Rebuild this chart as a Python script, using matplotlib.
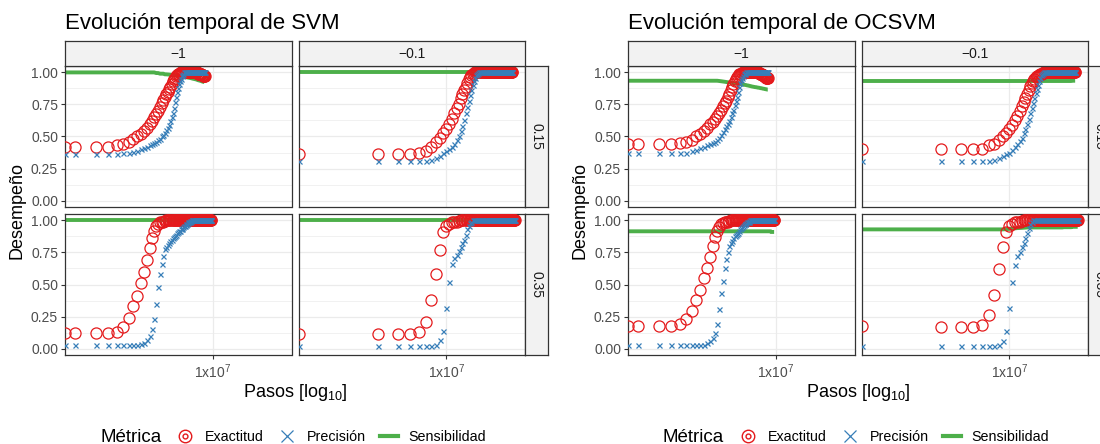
import matplotlib
matplotlib.use("Agg")
import matplotlib.pyplot as plt
from matplotlib.lines import Line2D
from matplotlib.legend_handler import HandlerTuple
from matplotlib.ticker import NullLocator
import numpy as np

plt.rcParams['font.family'] = ['Liberation Sans', 'DejaVu Sans']
plt.rcParams['mathtext.fontset'] = 'custom'
plt.rcParams['mathtext.rm'] = 'Liberation Sans'
plt.rcParams['mathtext.it'] = 'Liberation Sans:italic'
plt.rcParams['mathtext.bf'] = 'Liberation Sans:bold'
plt.rcParams['mathtext.default'] = 'regular'

W, H = 1100, 444

RED = '#E41A1C'
BLUE = '#377EB8'
GREEN = '#4DAF4A'
BORDER = '#333333'
GRID = '#EBEBEB'
STRIP = '#F2F2F2'

COLS = ["\u22121", "\u22120.1"]
ROWS = ["0.15", "0.35"]
STEP = [1e5, 1e6]  # pasos entre puntos de control por columna
METRICS = ["Exactitud", "Precisión", "Sensibilidad"]

# ---------------- SVM ----------------
svm_acc_015_m1 = [
    .42, .42, .42, .42, .43, .44, .46, .48, .50, .52,
    .545, .57, .595, .62, .65, .675, .70, .73, .76, .785,
    .81, .83, .85, .87, .89, .91, .93, .945, .96, .97,
    .98, .985, .99, .995, 1, 1, 1, 1, 1, 1,
    1, 1, 1, 1, 1, 1, 1, 1, 1, 1,
    1, 1, 1, 1, 1, 1, 1, 1, 1, 1,
    .995, .99, .99, .99, .99, .99, .99, .985, .985, .98,
    .98, .98, .975, .975, .97, .97, .97]
svm_prec_015_m1 = [
    .365, .365, .365, .365, .365, .37, .37, .38, .39, .40,
    .41, .42, .43, .44, .45, .46, .47, .48, .50, .51,
    .53, .55, .57, .59, .62, .65, .68, .72, .77, .81,
    .85, .88, .91, .93, .95, .97, .98, .99, 1, 1,
    1, 1, 1, 1, 1, 1, 1, 1, 1, 1,
    1, 1, 1, 1, 1, 1, 1, 1, 1, 1,
    1, 1, 1, 1, 1, 1, 1, 1, 1, 1,
    1, 1, 1, 1, 1, 1, 1]
svm_sens_015_m1 = [
    1, 1, 1, 1, 1, 1, 1, 1, 1, 1,
    1, 1, 1, 1, 1, .995, .995, .99, .99, .99,
    .985, .985, .984, .983, .982, .98, .979, .978, .977, .976,
    .975, .974, .973, .972, .971, .97, .968, .967, .966, .965,
    .963, .962, .961, .96, .959, .958, .957, .956, .955, .954,
    .952, .951, .95, .949, .948, .947, .946, .945, .944, .942,
    .94, .939, .938, .937, .936, .935, .934, .933, .932, .93,
    .929, .928, .927, .926, .925, .924, .922]

svm_acc_015_m01 = [
    .365, .365, .365, .365, .37, .39, .42, .455, .49, .525,
    .56, .60, .64, .68, .72, .755, .80, .83, .86, .89,
    .92, .945, .965, .98, .99, .995, 1, 1, 1, 1,
    1, 1, 1, 1, 1, 1, 1, 1, 1, 1,
    1, 1, 1, 1, 1, 1, 1, 1, 1, 1,
    1, 1, 1, 1, 1, 1, 1, 1, 1, 1,
    1, 1, 1, 1, 1, 1, 1, 1, 1, 1,
    1, 1, 1, 1, 1, 1, 1, 1, 1, 1,
    1, 1, 1, 1, 1, 1, 1, 1, 1, 1,
    1]
svm_prec_015_m01 = [
    .305, .305, .305, .305, .305, .31, .32, .335, .35, .37,
    .39, .40, .42, .44, .47, .50, .54, .58, .63, .68,
    .73, .78, .82, .86, .90, .93, .96, .98, .99, .995,
    1, 1, 1, 1, 1, 1, 1, 1, 1, 1,
    1, 1, 1, 1, 1, 1, 1, 1, 1, 1,
    1, 1, 1, 1, 1, 1, 1, 1, 1, 1,
    1, 1, 1, 1, 1, 1, 1, 1, 1, 1,
    1, 1, 1, 1, 1, 1, 1, 1, 1, 1,
    1, 1, 1, 1, 1, 1, 1, 1, 1, 1,
    1]
svm_sens_015_m01 = [
    1, 1, 1, 1, 1, 1, 1, 1, 1, 1,
    1, 1, 1, 1, 1, 1, 1, 1, 1, 1,
    1, 1, 1, 1, 1, 1, 1, 1, 1, 1,
    1, 1, 1, 1, 1, 1, 1, 1, 1, 1,
    1, 1, 1, 1, 1, 1, 1, 1, 1, 1,
    1, 1, 1, 1, 1, 1, 1, 1, 1, 1,
    1, 1, 1, 1, 1, 1, 1, 1, 1, 1,
    1, 1, 1, 1, 1, 1, 1, 1, 1, 1,
    1, 1, 1, 1, 1, 1, 1, 1, 1, 1,
    1]

svm_acc_035_m1 = [
    .12, .12, .12, .12, .13, .17, .24, .33, .41, .51,
    .60, .69, .785, .86, .92, .96, .975, .985, .99, .99,
    .995, 1, 1, 1, 1, 1, 1, 1, 1, 1,
    1, 1, 1, 1, 1, 1, 1, 1, 1, 1,
    1, 1, 1, 1, 1, 1, 1, 1, 1, 1,
    1, 1, 1, 1, 1, 1, 1, 1, 1, 1,
    1, 1, 1, 1, 1, 1, 1, 1, 1, 1,
    1, 1, 1, 1, 1, 1, 1, 1, 1, 1,
    1, 1, 1, 1, 1, 1, 1, 1, 1, 1,
    1, 1, 1, 1, 1]
svm_prec_035_m1 = [
    .03, .03, .03, .03, .03, .03, .03, .03, .03, .035,
    .045, .07, .10, .15, .23, .35, .48, .58, .66, .72,
    .78, .795, .81, .825, .84, .85, .86, .87, .88, .89,
    .90, .91, .915, .92, .93, .935, .94, .95, .955, .96,
    .965, .97, .975, .98, .985, .99, .99, .995, .995, 1,
    1, 1, 1, 1, 1, 1, 1, 1, 1, 1,
    1, 1, 1, 1, 1, 1, 1, 1, 1, 1,
    1, 1, 1, 1, 1, 1, 1, 1, 1, 1,
    1, 1, 1, 1, 1, 1, 1, 1, 1, 1,
    1, 1, 1, 1, 1]
svm_sens_035_m1 = [
    1, 1, 1, 1, 1, 1, 1, 1, 1, 1,
    1, 1, 1, 1, 1, 1, 1, 1, 1, 1,
    1, 1, 1, 1, 1, 1, 1, 1, 1, 1,
    1, 1, 1, 1, 1, 1, 1, 1, 1, 1,
    1, 1, 1, 1, 1, 1, 1, 1, 1, 1,
    1, 1, 1, 1, 1, 1, 1, 1, 1, 1,
    1, 1, 1, 1, 1, 1, 1, 1, 1, 1,
    1, 1, 1, 1, 1, 1, 1, 1, 1, 1,
    1, 1, 1, 1, 1, 1, 1, 1, 1, 1,
    1, 1, 1, 1, 1]

svm_acc_035_m01 = [
    .11, .11, .11, .11, .13, .21, .38, .58, .77, .91,
    .96, .975, .985, .99, .99, .995, 1, 1, 1, 1,
    1, 1, 1, 1, 1, 1, 1, 1, 1, 1,
    1, 1, 1, 1, 1, 1, 1, 1, 1, 1,
    1, 1, 1, 1, 1, 1, 1, 1, 1, 1,
    1, 1, 1, 1, 1, 1, 1, 1, 1, 1,
    1, 1, 1, 1, 1, 1, 1, 1, 1, 1,
    1, 1, 1, 1, 1, 1, 1, 1, 1, 1,
    1, 1, 1, 1, 1, 1, 1, 1, 1, 1,
    1, 1, 1, 1, 1, 1, 1, 1, 1]
svm_prec_035_m01 = [
    .02, .02, .02, .02, .02, .02, .02, .03, .07, .14,
    .32, .52, .66, .71, .73, .76, .79, .82, .85, .89,
    .93, .96, .98, .99, 1, 1, 1, 1, 1, 1,
    1, 1, 1, 1, 1, 1, 1, 1, 1, 1,
    1, 1, 1, 1, 1, 1, 1, 1, 1, 1,
    1, 1, 1, 1, 1, 1, 1, 1, 1, 1,
    1, 1, 1, 1, 1, 1, 1, 1, 1, 1,
    1, 1, 1, 1, 1, 1, 1, 1, 1, 1,
    1, 1, 1, 1, 1, 1, 1, 1, 1, 1,
    1, 1, 1, 1, 1, 1, 1, 1, 1]
svm_sens_035_m01 = [
    1, 1, 1, 1, 1, 1, 1, 1, 1, 1,
    1, 1, 1, 1, 1, 1, 1, 1, 1, 1,
    1, 1, 1, 1, 1, 1, 1, 1, 1, 1,
    1, 1, 1, 1, 1, 1, 1, 1, 1, 1,
    1, 1, 1, 1, 1, 1, 1, 1, 1, 1,
    1, 1, 1, 1, 1, 1, 1, 1, 1, 1,
    1, 1, 1, 1, 1, 1, 1, 1, 1, 1,
    1, 1, 1, 1, 1, 1, 1, 1, 1, 1,
    1, 1, 1, 1, 1, 1, 1, 1, 1, 1,
    1, 1, 1, 1, 1, 1, 1, 1, 1]

# ---------------- OCSVM ----------------
ocsvm_acc_015_m1 = [
    .44, .44, .44, .44, .45, .46, .475, .50, .52, .545,
    .57, .595, .615, .64, .66, .68, .71, .735, .76, .78,
    .81, .835, .86, .885, .91, .93, .95, .965, .975, .985,
    .99, .99, .995, 1, 1, 1, 1, 1, 1, 1,
    1, 1, 1, 1, 1, 1, 1, 1, 1, 1,
    1, 1, 1, 1, 1, 1, .995, .995, .99, .99,
    .99, .985, .985, .98, .98, .98, .975, .975, .97, .97,
    .965, .965, .96, .96, .96, .955, .955]
ocsvm_prec_015_m1 = [
    .37, .37, .37, .37, .37, .37, .385, .395, .41, .42,
    .43, .44, .45, .46, .475, .49, .51, .535, .555, .58,
    .60, .62, .65, .68, .71, .745, .78, .81, .85, .885,
    .92, .94, .96, .975, .985, .99, .995, 1, 1, 1,
    1, 1, 1, 1, 1, 1, 1, 1, 1, 1,
    1, 1, 1, 1, 1, 1, 1, 1, 1, 1,
    1, 1, 1, 1, 1, 1, 1, 1, 1, 1,
    1, 1, 1, 1, 1, 1, 1]
ocsvm_sens_015_m1 = [
    .935, .935, .935, .935, .935, .935, .935, .935, .935, .935,
    .935, .935, .935, .935, .935, .933, .931, .929, .927, .925,
    .923, .921, .92, .918, .917, .915, .914, .913, .912, .911,
    .91, .909, .907, .906, .905, .903, .902, .901, .899, .898,
    .897, .895, .894, .893, .891, .89, .889, .888, .887, .886,
    .885, .885, .884, .883, .882, .881, .881, .88, .879, .878,
    .877, .877, .876, .875, .874, .873, .873, .872, .871, .87,
    .87, .869, .868, .868, .867, .866, .866]

ocsvm_acc_015_m01 = [
    .40, .40, .40, .40, .405, .43, .445, .47, .50, .53,
    .56, .59, .625, .66, .70, .74, .77, .80, .835, .865,
    .895, .92, .935, .95, .965, .97, .975, .98, .985, .99,
    .99, .995, 1, 1, 1, 1, 1, 1, 1, 1,
    1, 1, 1, 1, 1, 1, 1, 1, 1, 1,
    1, 1, 1, 1, 1, 1, 1, 1, 1, 1,
    1, 1, 1, 1, 1, 1, 1, 1, 1, 1,
    1, 1, 1, 1, 1, 1, 1, 1, 1, 1,
    1, 1, 1, 1, 1, 1, 1, 1, 1, 1,
    1]
ocsvm_prec_015_m01 = [
    .305, .305, .305, .305, .305, .31, .32, .335, .35, .36,
    .375, .395, .415, .44, .465, .49, .525, .56, .60, .64,
    .68, .72, .76, .80, .84, .87, .905, .935, .96, .98,
    .99, .995, 1, 1, 1, 1, 1, 1, 1, 1,
    1, 1, 1, 1, 1, 1, 1, 1, 1, 1,
    1, 1, 1, 1, 1, 1, 1, 1, 1, 1,
    1, 1, 1, 1, 1, 1, 1, 1, 1, 1,
    1, 1, 1, 1, 1, 1, 1, 1, 1, 1,
    1, 1, 1, 1, 1, 1, 1, 1, 1, 1,
    1]
ocsvm_sens_015_m01 = [
    .933, .933, .933, .933, .933, .933, .933, .933, .933, .933,
    .933, .933, .933, .933, .933, .933, .933, .933, .933, .933,
    .933, .933, .933, .933, .933, .933, .933, .933, .933, .933,
    .933, .933, .933, .933, .933, .933, .933, .933, .933, .933,
    .933, .933, .933, .933, .933, .933, .933, .933, .933, .933,
    .933, .933, .933, .933, .933, .933, .933, .933, .933, .933,
    .933, .933, .933, .933, .933, .933, .933, .933, .933, .933,
    .933, .933, .933, .933, .933, .933, .933, .933, .933, .933,
    .935, .935, .935, .935, .935, .935, .935, .935, .935, .935,
    .935]

ocsvm_acc_035_m1 = [
    .18, .18, .18, .18, .19, .23, .29, .38, .46, .55,
    .63, .715, .80, .87, .92, .95, .97, .98, .985, .99,
    .99, .995, 1, 1, 1, 1, 1, 1, 1, 1,
    1, 1, 1, 1, 1, 1, 1, 1, 1, 1,
    1, 1, 1, 1, 1, 1, 1, 1, 1, 1,
    1, 1, 1, 1, 1, 1, 1, 1, 1, 1,
    1, 1, 1, 1, 1, 1, 1, 1, 1, 1,
    1, 1, 1, 1, 1, 1, 1, 1, 1, 1,
    1, 1, 1, 1, 1, 1, 1, 1, 1, 1,
    1, 1, 1, 1, 1]
ocsvm_prec_035_m1 = [
    .03, .03, .03, .03, .03, .03, .03, .03, .03, .03,
    .04, .06, .085, .12, .19, .31, .43, .53, .63, .70,
    .75, .80, .82, .84, .86, .875, .885, .895, .905, .92,
    .93, .94, .95, .955, .965, .97, .975, .98, .985, .99,
    .99, .995, 1, 1, 1, 1, 1, 1, 1, 1,
    1, 1, 1, 1, 1, 1, 1, 1, 1, 1,
    1, 1, 1, 1, 1, 1, 1, 1, 1, 1,
    1, 1, 1, 1, 1, 1, 1, 1, 1, 1,
    1, 1, 1, 1, 1, 1, 1, 1, 1, 1,
    1, 1, 1, 1, 1]
ocsvm_sens_035_m1 = [
    .915, .915, .915, .915, .915, .915, .915, .915, .915, .915,
    .915, .915, .915, .915, .915, .915, .915, .915, .915, .915,
    .915, .915, .915, .915, .915, .915, .915, .915, .915, .915,
    .915, .915, .915, .915, .915, .915, .915, .915, .915, .915,
    .915, .915, .915, .915, .915, .915, .915, .915, .915, .915,
    .915, .915, .915, .915, .915, .915, .915, .915, .915, .915,
    .915, .915, .915, .915, .915, .915, .915, .915, .915, .915,
    .915, .915, .915, .915, .915, .915, .915, .915, .915, .915,
    .915, .915, .915, .915, .915, .91, .91, .91, .91, .91,
    .91, .91, .91, .91, .91]

ocsvm_acc_035_m01 = [
    .18, .17, .17, .17, .185, .26, .42, .62, .79, .91,
    .96, .975, .985, .99, .99, .995, 1, 1, 1, 1,
    1, 1, 1, 1, 1, 1, 1, 1, 1, 1,
    1, 1, 1, 1, 1, 1, 1, 1, 1, 1,
    1, 1, 1, 1, 1, 1, 1, 1, 1, 1,
    1, 1, 1, 1, 1, 1, 1, 1, 1, 1,
    1, 1, 1, 1, 1, 1, 1, 1, 1, 1,
    1, 1, 1, 1, 1, 1, 1, 1, 1, 1,
    1, 1, 1, 1, 1, 1, 1, 1, 1, 1,
    1, 1, 1, 1, 1, 1, 1, 1, 1]
ocsvm_prec_035_m01 = [
    .02, .02, .02, .02, .02, .02, .02, .03, .06, .14,
    .32, .52, .65, .72, .75, .79, .82, .86, .90, .94,
    .97, .99, 1, 1, 1, 1, 1, 1, 1, 1,
    1, 1, 1, 1, 1, 1, 1, 1, 1, 1,
    1, 1, 1, 1, 1, 1, 1, 1, 1, 1,
    1, 1, 1, 1, 1, 1, 1, 1, 1, 1,
    1, 1, 1, 1, 1, 1, 1, 1, 1, 1,
    1, 1, 1, 1, 1, 1, 1, 1, 1, 1,
    1, 1, 1, 1, 1, 1, 1, 1, 1, 1,
    1, 1, 1, 1, 1, 1, 1, 1, 1]
ocsvm_sens_035_m01 = [
    .93, .93, .93, .93, .93, .93, .93, .93, .93, .932,
    .934, .936, .938, .94, .941, .942, .943, .944, .945, .945,
    .945, .945, .945, .945, .945, .945, .945, .945, .945, .945,
    .945, .945, .945, .945, .945, .945, .945, .945, .945, .945,
    .945, .945, .945, .945, .945, .945, .945, .945, .945, .945,
    .945, .945, .945, .945, .945, .945, .945, .945, .945, .945,
    .947, .947, .947, .947, .947, .947, .947, .947, .947, .947,
    .947, .947, .947, .947, .947, .947, .947, .947, .947, .947,
    .95, .95, .95, .95, .95, .95, .95, .95, .95, .95,
    .95, .95, .95, .95, .95, .95, .95, .95, .95]

CHARTS = [
    ("Evolución temporal de SVM", 0,
     [[(svm_acc_015_m1, svm_prec_015_m1, svm_sens_015_m1),
       (svm_acc_015_m01, svm_prec_015_m01, svm_sens_015_m01)],
      [(svm_acc_035_m1, svm_prec_035_m1, svm_sens_035_m1),
       (svm_acc_035_m01, svm_prec_035_m01, svm_sens_035_m01)]]),
    ("Evolución temporal de OCSVM", 563,
     [[(ocsvm_acc_015_m1, ocsvm_prec_015_m1, ocsvm_sens_015_m1),
       (ocsvm_acc_015_m01, ocsvm_prec_015_m01, ocsvm_sens_015_m01)],
      [(ocsvm_acc_035_m1, ocsvm_prec_035_m1, ocsvm_sens_035_m1),
       (ocsvm_acc_035_m01, ocsvm_prec_035_m01, ocsvm_sens_035_m01)]]),
]


def box(x, y, w, h):
    # rectangulo en pixeles (origen arriba a la izquierda) -> fraccion de figura
    return [x / W, 1 - (y + h) / H, w / W, h / H]


def steps(vals, step, left):
    x = np.arange(len(vals)) * step
    x[0] = left  # el paso 0 cae en -Inf del eje log: se dibuja en el borde
    return x


# limites del eje x compartido (log10 con 5% de margen, como ggplot)
lo_x, hi_x = np.inf, -np.inf
for _, _, grid in CHARTS:
    for r in range(2):
        for c in range(2):
            for vals in grid[r][c]:
                lo_x = min(lo_x, np.log10(STEP[c]))
                hi_x = max(hi_x, np.log10((len(vals) - 1) * STEP[c]))
pad = 0.05 * (hi_x - lo_x)
XLIM = (10 ** (lo_x - pad), 10 ** (hi_x + pad))

fig = plt.figure(figsize=(W / 100, H / 100), dpi=100)

col_left = [65, 298.5]
col_w = 226.5
row_top = [66, 214]
row_h = 141

for title, off, grid in CHARTS:
    fig.text((off + 65) / W, 1 - 29 / H, title, fontsize=16, ha='left',
             va='baseline', color='black')
    for r in range(2):
        for c in range(2):
            acc, prec, sens = grid[r][c]
            ax = fig.add_axes(box(off + col_left[c], row_top[r], col_w, row_h))
            ax.set_xscale('log')
            ax.plot(steps(sens, STEP[c], XLIM[0]), sens, color=GREEN, lw=2.8,
                    solid_capstyle='butt', zorder=2)
            ax.plot(steps(acc, STEP[c], XLIM[0]), acc, ls='none', marker='o',
                    ms=8, mfc='none', mec=RED, mew=0.9, zorder=3)
            ax.plot(steps(prec, STEP[c], XLIM[0]), prec, ls='none', marker='x',
                    ms=3.6, mec=BLUE, mew=0.9, zorder=4)
            ax.set_xlim(XLIM)
            ax.set_ylim(-0.05, 1.05)
            ax.set_xticks([1e7], labels=['1x$10^{7}$'])
            ax.xaxis.set_minor_locator(NullLocator())
            ax.set_yticks([0, .25, .5, .75, 1],
                          labels=['0.00', '0.25', '0.50', '0.75', '1.00'])
            ax.set_yticks([.125, .375, .625, .875], minor=True)
            ax.grid(True, which='major', color=GRID, lw=0.9)
            ax.grid(True, which='minor', axis='y', color=GRID, lw=0.5)
            ax.set_axisbelow(True)
            for sp in ax.spines.values():
                sp.set_color(BORDER)
                sp.set_linewidth(0.9)
            ax.tick_params(which='major', direction='out', length=3, width=0.8,
                           color=BORDER, labelcolor='#4D4D4D', labelsize=10, pad=2)
            ax.tick_params(which='minor', length=0)
            ax.tick_params(axis='y', left=(c == 0), labelleft=(c == 0))
            ax.tick_params(axis='x', bottom=(r == 1), labelbottom=(r == 1))

    # tiras de facetas
    for c in range(2):
        sax = fig.add_axes(box(off + col_left[c], 41, col_w, 25))
        sax.set_facecolor(STRIP)
        sax.set_xticks([])
        sax.set_yticks([])
        for sp in sax.spines.values():
            sp.set_color(BORDER)
            sp.set_linewidth(0.9)
        sax.text(0.5, 0.5, COLS[c], ha='center', va='center', fontsize=10,
                 color='#1A1A1A', transform=sax.transAxes)
    for r in range(2):
        sax = fig.add_axes(box(off + 525, row_top[r], 23, row_h))
        sax.set_facecolor(STRIP)
        sax.set_xticks([])
        sax.set_yticks([])
        for sp in sax.spines.values():
            sp.set_color(BORDER)
            sp.set_linewidth(0.9)
        sax.text(0.5, 0.5, ROWS[r], ha='center', va='center', fontsize=10,
                 rotation=-90, color='#1A1A1A', transform=sax.transAxes)

    fig.text((off + 17) / W, 1 - 210.5 / H, "Desempeño", rotation=90,
             ha='center', va='center', fontsize=13)
    fig.text((off + 295) / W, 1 - 392 / H, "Pasos [log$_{10}$]",
             ha='center', va='center', fontsize=13)

    # leyenda
    fig.text((off + 100) / W, 1 - 437 / H, "Métrica", ha='left', va='center',
             fontsize=13.5)
    h_acc = (Line2D([], [], ls='none', marker='o', ms=9, mfc='none', mec=RED, mew=1.0),
             Line2D([], [], ls='none', marker='o', ms=3.5, mfc='none', mec=RED, mew=1.0))
    h_prec = Line2D([], [], ls='none', marker='x', ms=8.5, mec=BLUE, mew=0.9)
    h_sens = Line2D([], [], color=GREEN, lw=3)
    fig.legend([h_acc, h_prec, h_sens], METRICS, loc='center left',
               bbox_to_anchor=((off + 176) / W, 1 - 437 / H), ncol=3,
               frameon=False, fontsize=10.3, handlelength=1.3,
               handletextpad=0.7, columnspacing=1.0, borderpad=0,
               borderaxespad=0, handler_map={tuple: HandlerTuple(ndivide=1)})

fig.savefig("out.png", dpi=100)
